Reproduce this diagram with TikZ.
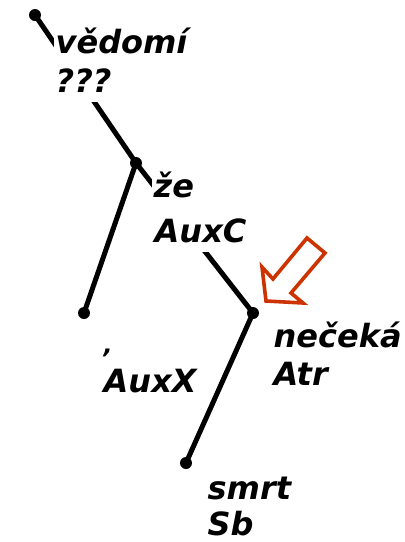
\documentclass[tikz,border=0pt]{standalone}
\usepackage{fontspec}
\setmainfont{DejaVu Sans}
\usetikzlibrary{fit}
\pgfdeclarelayer{edgelayer}
\pgfdeclarelayer{masklayer}
\pgfsetlayers{edgelayer,masklayer,main}
\begin{document}
\begin{tikzpicture}[x=1pt,y=-1pt,
  dotnode/.style={circle,fill=black,inner sep=0pt,minimum size=12pt},
  edge/.style={line width=5pt,line cap=round},
  lbl/.style={anchor=base west,inner sep=1.5pt,text depth=8pt,font=\fontsize{32}{38}\selectfont\bfseries\itshape},
  mask/.style={fill=white,inner sep=0pt},
  hint/.style={draw=arrowred,line width=3.6pt,line join=miter}]
\definecolor{arrowred}{HTML}{CC3300}
\useasboundingbox (0,0) rectangle (405,542);
% dots
\node[dotnode] (root) at (35,15) {};
\node[dotnode] (ze) at (136,163) {};
\node[dotnode] (comma) at (84,313) {};
\node[dotnode] (neceka) at (253,313) {};
\node[dotnode] (smrt) at (186,463) {};
% edges
\begin{pgfonlayer}{edgelayer}
\draw[edge] (root.center) -- (ze.center);
\draw[edge] (ze.center) -- (comma.center);
\draw[edge] (ze.center) -- (neceka.center);
\draw[edge] (neceka.center) -- (smrt.center);
\end{pgfonlayer}
% labels
\node[lbl] (l1) at (54,53) {vědomí};
\node[lbl] (l1b) at (54,92) {???};
\node[lbl] (l2) at (152,197) {že};
\node[lbl] (l2b) at (153,242) {AuxC};
\node[lbl,font=\fontsize{24}{30}\selectfont\bfseries\itshape] (l3) at (102,353) {,};
\node[lbl] (l3b) at (102,392) {AuxX};
\node[lbl] (l4) at (272,347) {nečeká};
\node[lbl] (l4b) at (272,385) {Atr};
\node[lbl] (l5) at (206,499) {smrt};
\node[lbl,text depth=2pt] (l5b) at (206,535) {Sb};
\begin{pgfonlayer}{masklayer}
\node[mask,fit=(l1)(l1b)] {};
\node[mask,fit=(l2)(l2b)] {};
\node[mask,fit=(l3)(l3b)] {};
\node[mask,fit=(l4)(l4b)] {};
\node[mask,fit=(l5)(l5b)] {};
\end{pgfonlayer}
% hint arrow
\draw[hint] (266,301) -- (262,267) -- (273,279) -- (307,238) -- (325,253) -- (291,293) -- (303,303) -- cycle;
\end{tikzpicture}
\end{document}
